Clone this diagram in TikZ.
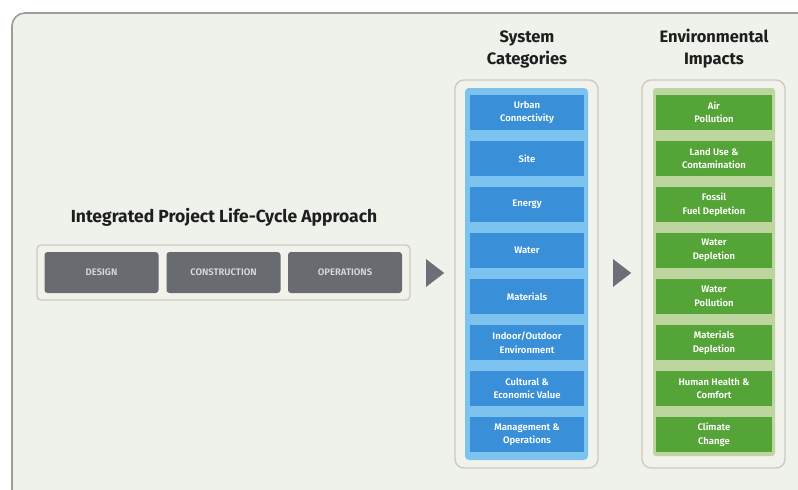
\documentclass[tikz,border=0pt]{standalone}
\usepackage{fontspec}
\setmainfont{Fira Sans}
\usetikzlibrary{shapes.geometric}
\definecolor{bgc}{HTML}{EEF2EB}
\definecolor{framec}{HTML}{9C9E9A}
\definecolor{panelc}{HTML}{F1F2EC}
\definecolor{panelb}{HTML}{CFCBBE}
\definecolor{catdark}{HTML}{3990D8}
\definecolor{catlight}{HTML}{7CC3F0}
\definecolor{impdark}{HTML}{55A438}
\definecolor{implight}{HTML}{BDD6A0}
\definecolor{phasec}{HTML}{686B70}
\definecolor{arrowc}{HTML}{6C6F77}
\definecolor{headc}{HTML}{1E1E1E}
\newfontfamily\boxfont{Fira Sans SemiBold}
\newfontfamily\headfont{Fira Sans Bold}
\tikzset{
  panel/.style={draw=panelb, line width=1.4pt, fill=panelc, rounded corners=9pt, inner sep=0pt},
  catbox/.style={fill=catdark, text=white, minimum width=114pt, minimum height=35pt, align=center, inner sep=0pt, font=\boxfont\fontsize{9.5}{13.5}\selectfont},
  impbox/.style={fill=impdark, text=white, minimum width=116pt, minimum height=35pt, align=center, inner sep=0pt, font=\boxfont\fontsize{9.5}{13.5}\selectfont},
  phasebox/.style={fill=phasec, text=white!85!black, rounded corners=3pt, minimum width=114pt, minimum height=41pt, inner sep=0pt, font=\boxfont\fontsize{9.5}{11}\selectfont},
  heading/.style={text=headc, align=center, font=\headfont\fontsize{16.5}{22}\selectfont},
  arrowtri/.style={isosceles triangle, isosceles triangle apex angle=75, fill=arrowc, inner sep=0pt, minimum height=18pt, minimum width=26pt}
}
\begin{document}
\begin{tikzpicture}[x=1pt,y=-1pt]
\useasboundingbox (0,0) rectangle (798,490);
\fill[white] (0,0) rectangle (798,490);
% outer frame
\draw[draw=framec, line width=1.6pt, fill=bgc, rounded corners=13pt] (12,13) rectangle (815,505);
% headings
\node[heading] (hsys) at (527,49) {System\\Categories};
\node[heading] (henv) at (714,49) {Environmental\\Impacts};
\node[heading, font=\headfont\fontsize{17.5}{20}\selectfont] (hlife) at (224,217) {Integrated Project Life-Cycle Approach};
% life-cycle panel
\node[panel, rounded corners=4pt, minimum width=373pt, minimum height=55pt] (lcframe) at (223.5,272.5) {};
\node[phasebox] (design) at (101.5,272.5) {DESIGN};
\node[phasebox] (constr) at (223.5,272.5) {CONSTRUCTION};
\node[phasebox] (oper) at (345,272.5) {OPERATIONS};
% arrows
\node[arrowtri] (arr1) at (433,273) {};
\node[arrowtri] (arr2) at (620,273) {};
% system categories panel
\node[panel, minimum width=143pt, minimum height=388pt] (catframe) at (526.5,274) {};
\fill[catlight, rounded corners=4pt] (465,88) rectangle (588,460);
\node[catbox] (c1) at (527,112.5) {Urban\\Connectivity};
\node[catbox] (c2) at (527,158.5) {Site};
\node[catbox] (c3) at (527,204.5) {Energy};
\node[catbox] (c4) at (527,250.5) {Water};
\node[catbox] (c5) at (527,296.5) {Materials};
\node[catbox] (c6) at (527,342.5) {Indoor/Outdoor\\Environment};
\node[catbox] (c7) at (527,388.5) {Cultural \&\\Economic Value};
\node[catbox] (c8) at (527,434.5) {Management \&\\Operations};
% environmental impacts panel
\node[panel, minimum width=143pt, minimum height=388pt] (impframe) at (713.5,274) {};
\fill[implight, rounded corners=3pt] (653,88) rectangle (775,456);
\node[impbox] (e1) at (714,112.5) {Air\\Pollution};
\node[impbox] (e2) at (714,158.5) {Land Use \&\\Contamination};
\node[impbox] (e3) at (714,204.5) {Fossil\\Fuel Depletion};
\node[impbox] (e4) at (714,250.5) {Water\\Depletion};
\node[impbox] (e5) at (714,296.5) {Water\\Pollution};
\node[impbox] (e6) at (714,342.5) {Materials\\Depletion};
\node[impbox] (e7) at (714,388.5) {Human Health \&\\Comfort};
\node[impbox] (e8) at (714,434.5) {Climate\\Change};
\end{tikzpicture}
\end{document}
